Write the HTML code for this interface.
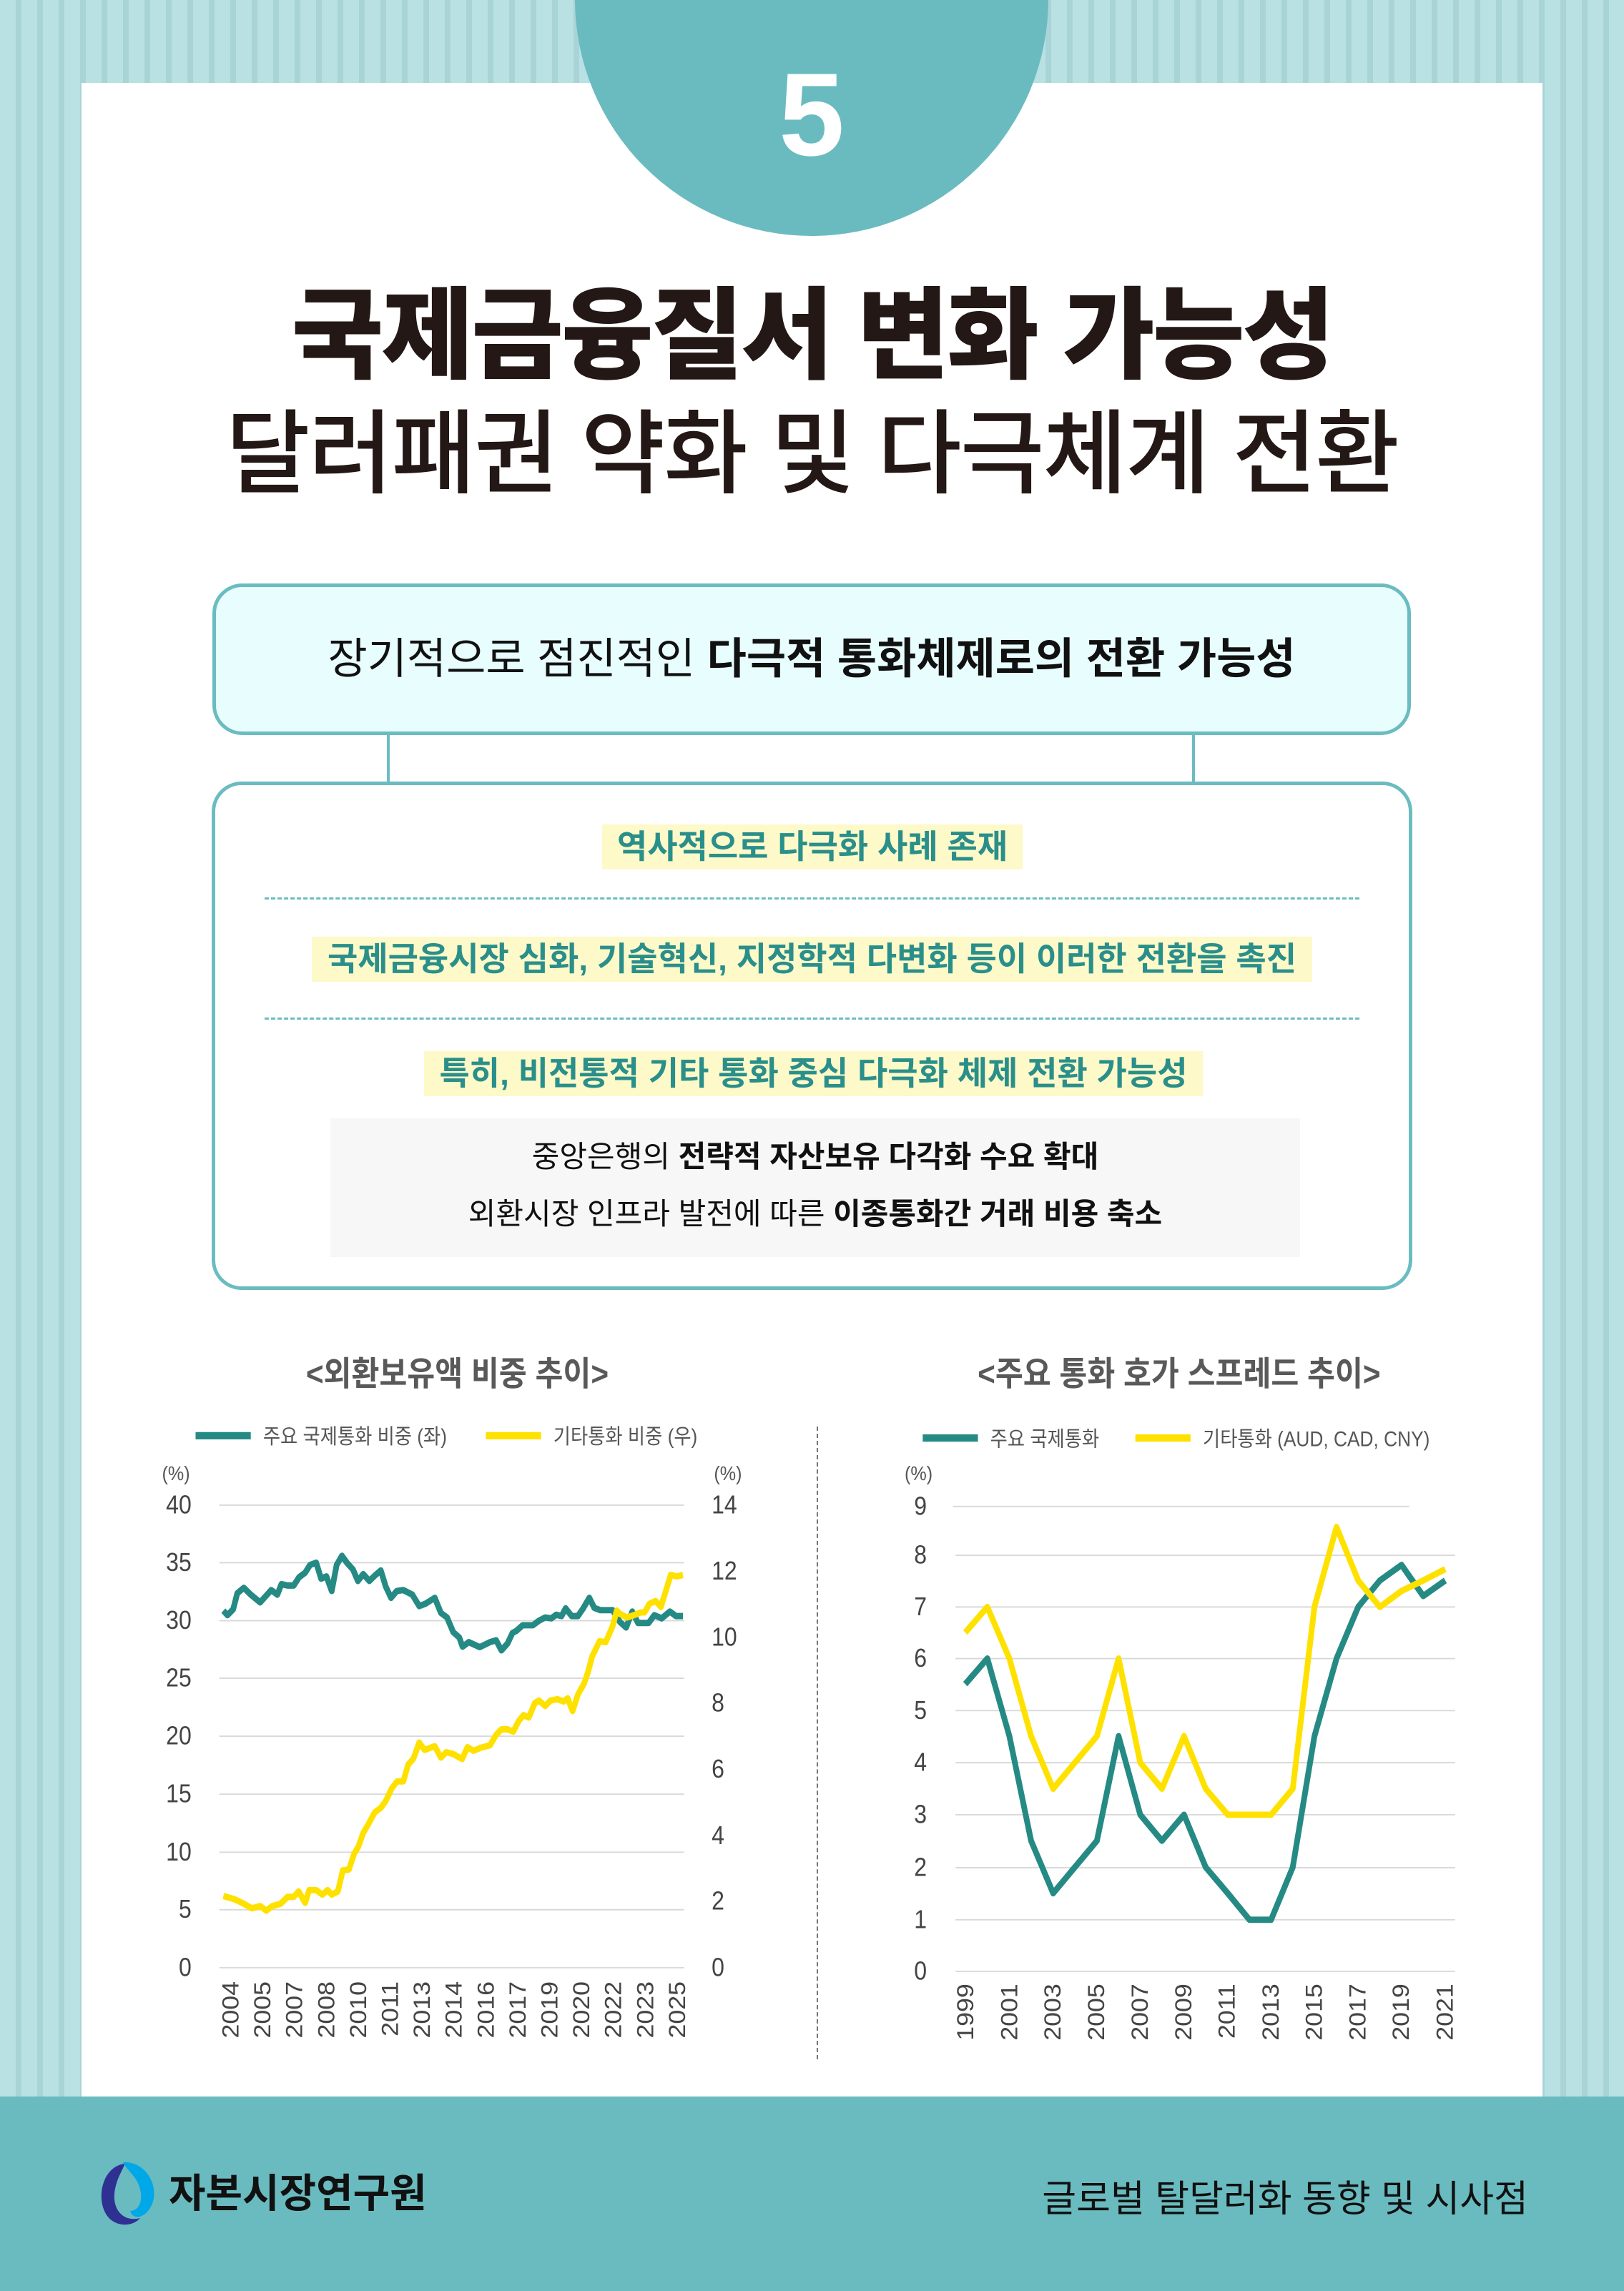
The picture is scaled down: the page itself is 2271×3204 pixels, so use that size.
<!DOCTYPE html>
<html><head><meta charset="utf-8"><style>
*{margin:0;padding:0;box-sizing:border-box}
body{width:2271px;height:3204px;position:relative;overflow:hidden;font-family:"Liberation Sans","Noto Sans CJK KR",sans-serif;
background:#b9e0e2 repeating-linear-gradient(90deg,#b9e0e2 0 22px,#a9d4d7 22px 30px);}
.abs{position:absolute}
.panel{left:114px;top:116px;width:2043px;height:2816px;background:#fff}
.circle{left:804px;top:-332px;width:662px;height:662px;border-radius:50%;background:#6abbc0}
.num{left:804px;width:662px;top:70px;text-align:center;color:#fff;font-weight:bold;font-size:165px;line-height:180px}
.t1{left:0;width:2271px;top:385px;text-align:center;font-weight:900;font-size:140px;line-height:170px;color:#231815;letter-spacing:-3px}
.t2{left:0;width:2271px;top:556px;text-align:center;font-weight:500;font-size:128px;line-height:160px;color:#231815;letter-spacing:-2px}
.box1{left:297px;top:816px;width:1676px;height:212px;background:#e8fdfd;border:5px solid #6bbcc1;border-radius:42px;text-align:center;font-size:60px;line-height:202px;color:#111}
.vl{width:4px;background:#6bbcc1;top:1026px;height:70px}
.box2{left:296px;top:1093px;width:1679px;height:711px;border:5px solid #6bbcc1;border-radius:42px;background:#fff}
.pill{background:#fdf9c9;color:#2a8f8a;font-weight:bold;text-align:center;white-space:nowrap;height:63px;line-height:63px}
.dot{left:370px;width:1531px;height:0;border-top:3px dashed #6bbcc1}
.gray{left:462px;top:1564px;width:1356px;height:194px;background:#f7f7f7;text-align:center;font-size:42px;color:#111}
.foot{left:0;top:2932px;width:2271px;height:272px;background:#6abbc0}
</style></head><body>
<div class="abs panel"></div>
<div class="abs circle"></div>
<div class="abs num">5</div>
<div class="abs t1">국제금융질서 변화 가능성</div>
<div class="abs t2">달러패권 약화 및 다극체계 전환</div>
<div class="abs box1">장기적으로 점진적인 <b>다극적 통화체제로의 전환 가능성</b></div>
<div class="abs vl" style="left:541px"></div>
<div class="abs vl" style="left:1667px"></div>
<div class="abs box2"></div>
<div class="abs pill" style="left:842px;top:1153px;width:588px;font-size:46px">역사적으로 다극화 사례 존재</div>
<div class="abs dot" style="top:1255px"></div>
<div class="abs pill" style="left:436px;top:1310px;width:1399px;font-size:46px">국제금융시장 심화, 기술혁신, 지정학적 다변화 등이 이러한 전환을 촉진</div>
<div class="abs dot" style="top:1423px"></div>
<div class="abs pill" style="left:593px;top:1470px;width:1089px;font-size:46px">특히, 비전통적 기타 통화 중심 다극화 체제 전환 가능성</div>
<div class="abs gray"><div style="position:absolute;top:28px;width:100%;line-height:52px">중앙은행의 <b>전략적 자산보유 다각화 수요 확대</b></div><div style="position:absolute;top:108px;width:100%;line-height:52px">외환시장 인프라 발전에 따른 <b>이종통화간 거래 비용 축소</b></div></div>

<div class="abs" style="left:1142px;top:1995px;height:885px;border-left:2px dashed #777"></div>

<svg class="abs" style="left:182px;top:1877px" width="900" height="1000" viewBox="0 0 1574 1566" preserveAspectRatio="none" font-family="Liberation Sans, Noto Sans CJK KR, sans-serif">
<text x="800" y="95" text-anchor="middle" font-size="74" font-weight="bold" fill="#595959">&lt;외환보유액 비중 추이&gt;</text>
<line x1="160" y1="205" x2="295" y2="205" stroke="#268a84" stroke-width="16"/>
<text x="325" y="222" font-size="46" fill="#555">주요 국제통화 비중 (좌)</text>
<line x1="870" y1="205" x2="1005" y2="205" stroke="#ffe100" stroke-width="16"/>
<text x="1035" y="222" font-size="46" fill="#555">기타통화 비중 (우)</text>
<text x="112" y="302" text-anchor="middle" font-size="44" fill="#555">(%)</text>
<text x="1462" y="302" text-anchor="middle" font-size="44" fill="#555">(%)</text>
<g stroke="#d9d9d9" stroke-width="3">
<line x1="218" y1="357" x2="1355" y2="357"/><line x1="218" y1="483" x2="1355" y2="483"/><line x1="218" y1="610" x2="1355" y2="610"/><line x1="218" y1="736" x2="1355" y2="736"/><line x1="218" y1="863" x2="1355" y2="863"/><line x1="218" y1="990" x2="1355" y2="990"/><line x1="218" y1="1117" x2="1355" y2="1117"/><line x1="218" y1="1243" x2="1355" y2="1243"/><line x1="218" y1="1370" x2="1355" y2="1370"/></g>
<g font-size="56" fill="#444" text-anchor="end">
<text x="150" y="375">40</text><text x="150" y="501">35</text><text x="150" y="628">30</text><text x="150" y="754">25</text><text x="150" y="881">20</text><text x="150" y="1008">15</text><text x="150" y="1135">10</text><text x="150" y="1261">5</text><text x="150" y="1388">0</text></g>
<g font-size="56" fill="#444" text-anchor="start">
<text x="1422" y="375">14</text><text x="1422" y="520">12</text><text x="1422" y="665">10</text><text x="1422" y="809">8</text><text x="1422" y="954">6</text><text x="1422" y="1099">4</text><text x="1422" y="1243">2</text><text x="1422" y="1388">0</text></g>
<g font-size="56" fill="#444" text-anchor="end">
<text transform="translate(265,1400) rotate(-90)">2004</text><text transform="translate(343,1400) rotate(-90)">2005</text><text transform="translate(421,1400) rotate(-90)">2007</text><text transform="translate(499,1400) rotate(-90)">2008</text><text transform="translate(577,1400) rotate(-90)">2010</text><text transform="translate(655,1400) rotate(-90)">2011</text><text transform="translate(733,1400) rotate(-90)">2013</text><text transform="translate(811,1400) rotate(-90)">2014</text><text transform="translate(889,1400) rotate(-90)">2016</text><text transform="translate(967,1400) rotate(-90)">2017</text><text transform="translate(1045,1400) rotate(-90)">2019</text><text transform="translate(1123,1400) rotate(-90)">2020</text><text transform="translate(1201,1400) rotate(-90)">2022</text><text transform="translate(1279,1400) rotate(-90)">2023</text><text transform="translate(1357,1400) rotate(-90)">2025</text></g>
<polyline fill="none" stroke="#268a84" stroke-width="14" stroke-linejoin="round" points="228,588 238,598 252,585 262,550 278,538 295,553 318,570 345,543 360,553 370,530 385,533 400,533 413,515 428,505 440,488 455,483 467,518 480,513 493,545 505,488 518,468 530,483 545,498 557,523 570,508 585,523 600,510 613,500 625,535 638,560 652,545 668,543 690,553 707,578 722,573 745,560 760,593 775,603 790,635 805,647 813,667 828,657 855,668 880,657 895,653 908,675 923,660 935,637 945,632 960,620 985,620 1000,610 1015,603 1030,605 1042,597 1055,600 1065,583 1080,600 1095,600 1108,583 1123,560 1135,582 1150,587 1180,587 1198,613 1213,625 1228,590 1242,615 1268,615 1282,598 1300,605 1320,590 1335,600 1352,600"/>
<polyline fill="none" stroke="#ffe100" stroke-width="14" stroke-linejoin="round" points="228,1213 255,1220 278,1230 298,1240 318,1235 333,1245 348,1235 368,1230 385,1215 400,1215 412,1203 428,1228 438,1200 455,1200 470,1210 483,1200 493,1210 508,1203 520,1157 535,1155 548,1120 558,1105 570,1075 583,1055 598,1030 613,1020 625,1005 640,977 653,962 668,962 680,925 693,912 707,877 720,893 745,885 760,910 773,898 790,902 812,913 825,887 840,895 858,888 880,883 895,860 908,848 923,848 937,853 950,830 962,817 975,822 990,790 1000,785 1015,797 1028,785 1045,782 1060,787 1070,780 1082,808 1095,772 1110,748 1120,722 1130,688 1148,655 1163,657 1180,622 1190,588 1198,595 1215,603 1235,597 1248,592 1258,592 1270,573 1285,567 1298,580 1310,545 1322,510 1337,513 1352,510"/>
</svg>

<svg class="abs" style="left:1200px;top:1877px" width="900" height="1000" viewBox="0 0 1574 1566" preserveAspectRatio="none" font-family="Liberation Sans, Noto Sans CJK KR, sans-serif">
<text x="785" y="95" text-anchor="middle" font-size="74" font-weight="bold" fill="#595959">&lt;주요 통화 호가 스프레드 추이&gt;</text>
<line x1="158" y1="210" x2="293" y2="210" stroke="#268a84" stroke-width="16"/>
<text x="323" y="228" font-size="46" fill="#555">주요 국제통화</text>
<line x1="678" y1="210" x2="813" y2="210" stroke="#ffe100" stroke-width="16"/>
<text x="843" y="228" font-size="46" fill="#555">기타통화 (AUD, CAD, CNY)</text>
<text x="148" y="302" text-anchor="middle" font-size="44" fill="#555">(%)</text>
<g stroke="#d9d9d9" stroke-width="3">
<line x1="232" y1="360" x2="1348" y2="360"/><line x1="238" y1="467" x2="1460" y2="467"/><line x1="238" y1="580" x2="1460" y2="580"/><line x1="238" y1="693" x2="1460" y2="693"/><line x1="238" y1="807" x2="1460" y2="807"/><line x1="238" y1="921" x2="1460" y2="921"/><line x1="238" y1="1035" x2="1460" y2="1035"/><line x1="238" y1="1151" x2="1460" y2="1151"/><line x1="238" y1="1265" x2="1460" y2="1265"/><line x1="238" y1="1378" x2="1460" y2="1378"/></g>
<g font-size="56" fill="#444" text-anchor="end">
<text x="168" y="378">9</text><text x="168" y="485">8</text><text x="168" y="598">7</text><text x="168" y="711">6</text><text x="168" y="825">5</text><text x="168" y="939">4</text><text x="168" y="1053">3</text><text x="168" y="1169">2</text><text x="168" y="1283">1</text><text x="168" y="1396">0</text></g>
<g font-size="56" fill="#444" text-anchor="end">
<text transform="translate(282,1405) rotate(-90)">1999</text><text transform="translate(389,1405) rotate(-90)">2001</text><text transform="translate(495,1405) rotate(-90)">2003</text><text transform="translate(602,1405) rotate(-90)">2005</text><text transform="translate(708,1405) rotate(-90)">2007</text><text transform="translate(815,1405) rotate(-90)">2009</text><text transform="translate(921,1405) rotate(-90)">2011</text><text transform="translate(1028,1405) rotate(-90)">2013</text><text transform="translate(1134,1405) rotate(-90)">2015</text><text transform="translate(1241,1405) rotate(-90)">2017</text><text transform="translate(1347,1405) rotate(-90)">2019</text><text transform="translate(1454,1405) rotate(-90)">2021</text></g>
<polyline fill="none" stroke="#268a84" stroke-width="14" stroke-linejoin="round" points="262,749 316,693 370,863 423,1092 477,1207 530,1150 584,1092 637,863 690,1035 743,1092 797,1035 850,1150 904,1207 957,1265 1010,1265 1063,1150 1116,863 1170,693 1223,580 1276,522 1329,488 1382,556 1436,522"/>
<polyline fill="none" stroke="#ffe100" stroke-width="14" stroke-linejoin="round" points="262,636 316,580 370,693 423,863 477,978 530,921 584,863 637,693 690,921 743,978 797,863 850,978 904,1035 957,1035 1010,1035 1063,978 1116,580 1170,405 1223,522 1276,580 1329,545 1382,522 1436,497"/>
</svg>

<div class="abs foot"></div>
<svg class="abs" style="left:134px;top:3022px" width="90" height="94" viewBox="0 0 90 94">
<path d="M40 4 C10 8 0 50 14 74 C24 92 50 94 62 80 C40 86 24 70 26 46 C28 24 40 10 40 4 Z" fill="#2e3192"/>
<path d="M38 2 C70 0 90 36 78 62 C70 80 52 84 48 70 C60 70 66 56 62 40 C58 22 44 14 38 2 Z" fill="#00a8e8"/>
</svg>
<div class="abs" style="left:236px;top:3036px;font-size:56px;font-weight:bold;color:#111;line-height:64px">자본시장연구원</div>
<div class="abs" style="top:3044px;font-size:52px;color:#111;line-height:64px;right:134px;text-align:right">글로벌 탈달러화 동향 및 시사점</div>
</body></html>
